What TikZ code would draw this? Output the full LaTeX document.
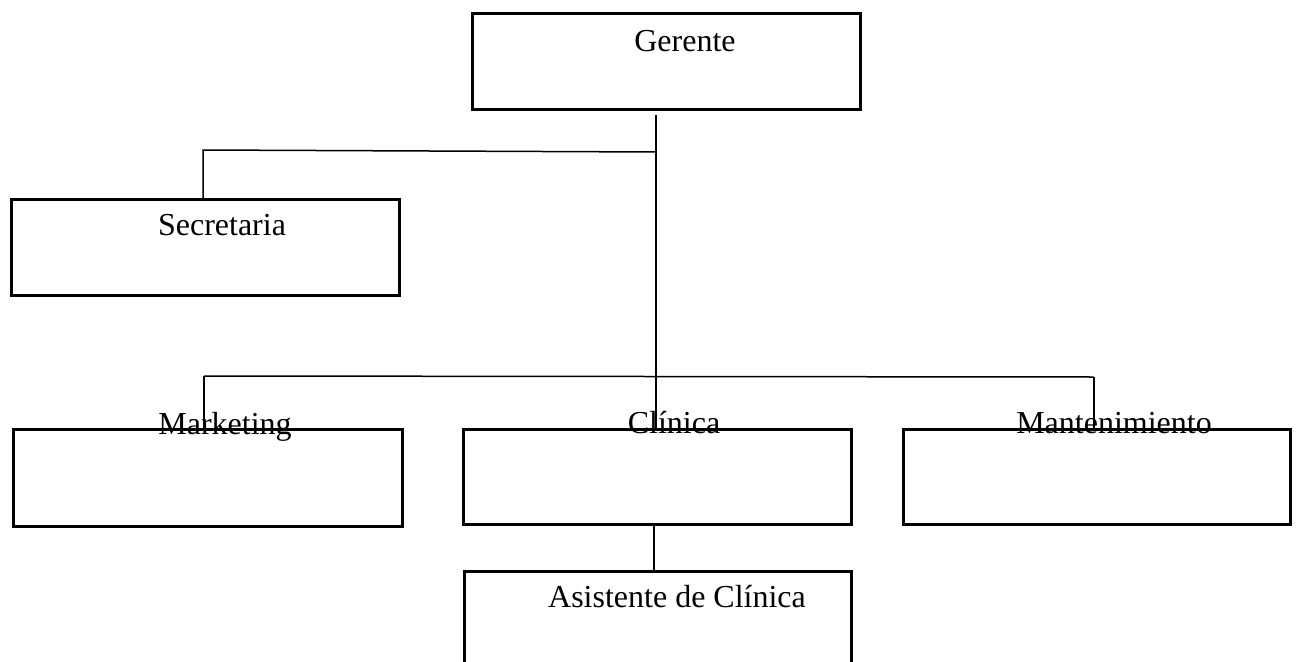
\documentclass[tikz,border=0pt]{standalone}
\usepackage{fontspec}
\setmainfont{Liberation Serif}
\begin{document}
\begin{tikzpicture}[x=1pt,y=-1pt,
  box/.style={draw=black,line width=2.6pt,rectangle,inner sep=0pt,anchor=north west},
  lbl/.style={anchor=base,inner sep=0pt,font=\fontsize{32}{38}\selectfont},
  conn/.style={draw=black,line width=1.5pt}]
\useasboundingbox (0,0) rectangle (1297,661);
\clip (0,0) rectangle (1297,661);
% boxes
\node[box,minimum width=388pt,minimum height=96pt] (ger) at (471,12) {};
\node[box,minimum width=388pt,minimum height=96pt] (sec) at (10,198) {};
\node[box,minimum width=389pt,minimum height=97pt] (mkt) at (12,428) {};
\node[box,minimum width=388pt,minimum height=95pt] (cli) at (462,428) {};
\node[box,minimum width=387pt,minimum height=95pt] (man) at (902,428) {};
\node[box,minimum width=387pt,minimum height=110pt] (asi) at (463,570) {};
% labels
\node[lbl] (tger) at (685,52) {Gerente};
\node[lbl] (tsec) at (222,235) {Secretaria};
\node[lbl] (tmkt) at (225,434) {Marketing};
\node[lbl] (tcli) at (674,433) {Clínica};
\node[lbl] (tman) at (1114,433) {Mantenimiento};
\node[lbl] (tasi) at (677,607) {Asistente de Clínica};
% junction coordinates
\coordinate (g0) at (656,115);
\coordinate (j1) at (656,152);
\coordinate (s1) at (203,150);
\coordinate (j2) at (656,376);
\coordinate (m1) at (204,376);
\coordinate (n1) at (1094,377);
% connectors
\draw[conn] (g0) -- (j2) -- (656,428);
\draw[conn] (j1) -- (s1) -- (s1 |- sec.north);
\draw[conn] (m1) -- (n1);
\draw[conn] (m1) -- (m1 |- mkt.north);
\draw[conn] (n1) -- (n1 |- man.north);
\draw[conn] (654,523) -- (654,570);
\end{tikzpicture}
\end{document}
